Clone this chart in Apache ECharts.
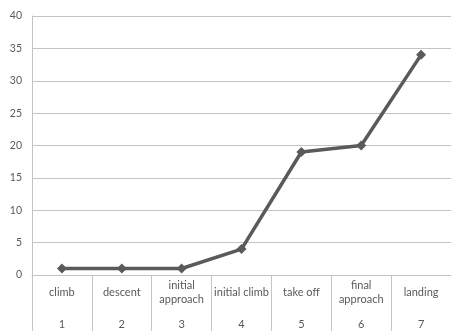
<!DOCTYPE html>
<html>
<head>
<meta charset="utf-8">
<script src="https://cdn.jsdelivr.net/npm/echarts@6/dist/echarts.min.js"></script>
<style>
  html, body { margin: 0; padding: 0; background: #ffffff; }
  #chart { width: 451px; height: 331px; }
</style>
</head>
<body>
<div id="chart"></div>
<script>
// Flight phases and their counts
const phases = ['climb', 'descent', 'initial\napproach', 'initial climb', 'take off', 'final\napproach', 'landing'];
const phaseNumbers = ['1', '2', '3', '4', '5', '6', '7'];
const counts = [1, 1, 1, 4, 19, 20, 34];

const FONT = 'Lato, "Open Sans", sans-serif';
const GRID_COLOR = '#c4c4c4';
const TEXT_COLOR = '#595959';

const chart = echarts.init(document.getElementById('chart'));
chart.setOption({
  animation: false,
  backgroundColor: '#ffffff',
  grid: { left: 32, right: -2, top: 16, bottom: 56, containLabel: false },
  xAxis: [
    {
      type: 'category',
      data: phases,
      boundaryGap: true,
      axisLine: { show: true, lineStyle: { color: GRID_COLOR, width: 1 } },
      axisTick: { show: true, interval: 0, length: 58, lineStyle: { color: GRID_COLOR, width: 1 } },
      axisLabel: {
        interval: 0, margin: 17, verticalAlign: 'middle',
        fontFamily: FONT, fontSize: 11, color: TEXT_COLOR, lineHeight: 14
      },
      splitLine: { show: false }
    },
    {
      type: 'category',
      data: phaseNumbers,
      position: 'bottom',
      boundaryGap: true,
      axisLine: { show: false },
      axisTick: { show: false },
      axisLabel: {
        interval: 0, margin: 49, verticalAlign: 'middle',
        fontFamily: FONT, fontSize: 11, color: TEXT_COLOR
      },
      splitLine: { show: false }
    }
  ],
  yAxis: {
    type: 'value',
    min: 0, max: 40, interval: 5,
    axisLine: { show: true, lineStyle: { color: GRID_COLOR, width: 1 } },
    axisTick: { show: false },
    axisLabel: { margin: 10, fontFamily: FONT, fontSize: 10.5, color: TEXT_COLOR },
    splitLine: { show: true, lineStyle: { color: GRID_COLOR, width: 1 } }
  },
  series: [{
    type: 'line',
    xAxisIndex: 0,
    data: counts,
    symbol: 'diamond',
    symbolSize: 10,
    showAllSymbol: true,
    lineStyle: { color: '#5a5a5a', width: 3.5 },
    itemStyle: { color: '#5a5a5a' }
  }]
});
</script>
</body>
</html>
